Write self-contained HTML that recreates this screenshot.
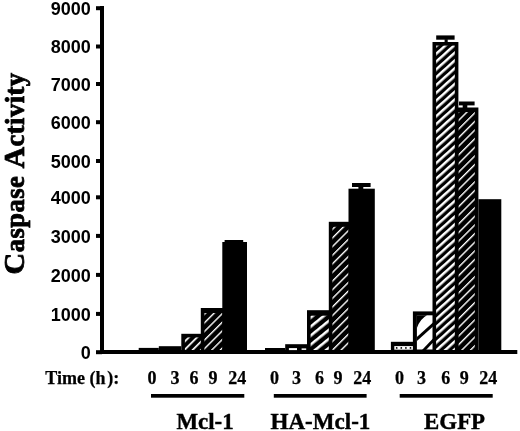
<!DOCTYPE html>
<html><head><meta charset="utf-8"><title>Caspase Activity</title>
<style>
html,body{margin:0;padding:0;background:#fff;}
body{width:520px;height:431px;overflow:hidden;}
svg{display:block;}
.yl{font-family:"Liberation Sans",Arial,sans-serif;font-weight:bold;font-size:18px;text-anchor:end;fill:#000;}
.yt{font-family:"Liberation Serif","Times New Roman",serif;font-weight:bold;font-size:26.5px;fill:#000;stroke:#000;stroke-width:0.8px;}
.xl{font-family:"Liberation Serif","Times New Roman",serif;font-weight:bold;font-size:18px;fill:#000;stroke:#000;stroke-width:0.25px;}
.gl{font-family:"Liberation Serif","Times New Roman",serif;font-weight:bold;font-size:24px;fill:#000;stroke:#000;stroke-width:0.4px;}
</style></head><body>
<svg width="520" height="431" viewBox="0 0 520 431">
<defs>
<pattern id="h1" patternUnits="userSpaceOnUse" width="5.8" height="5.8" patternTransform="rotate(45)">
<rect width="5.8" height="5.8" fill="#000"/><rect x="0" width="1.7" height="5.8" fill="#fff"/></pattern>
<pattern id="h2" patternUnits="userSpaceOnUse" width="6.1" height="6.1" patternTransform="rotate(45)">
<rect width="6.1" height="6.1" fill="#000"/><rect x="0" width="1.4" height="6.1" fill="#fff"/></pattern>
<pattern id="h3" patternUnits="userSpaceOnUse" width="5.8" height="5.8" patternTransform="rotate(48)">
<rect width="5.8" height="5.8" fill="#000"/><rect x="0" width="2.5" height="5.8" fill="#fff"/></pattern>
<pattern id="h4" patternUnits="userSpaceOnUse" width="7.0" height="7.0" patternTransform="rotate(51)">
<rect width="7.0" height="7.0" fill="#000"/><rect x="0" width="2.6" height="7.0" fill="#fff"/></pattern>
</defs>
<rect width="520" height="431" fill="#fff"/>
<rect x="100" y="6" width="4" height="348.0" fill="#000"/>
<rect x="100" y="350.0" width="417.3" height="4.0" fill="#000"/>
<rect x="96" y="350.2" width="6" height="4" fill="#000"/>
<text x="90.8" y="359.0" class="yl">0</text>
<rect x="96" y="311.9" width="6" height="4" fill="#000"/>
<text x="90.8" y="320.7" class="yl">1000</text>
<rect x="96" y="272.9" width="6" height="4" fill="#000"/>
<text x="90.8" y="281.7" class="yl">2000</text>
<rect x="96" y="233.9" width="6" height="4" fill="#000"/>
<text x="90.8" y="242.7" class="yl">3000</text>
<rect x="96" y="195.3" width="6" height="4" fill="#000"/>
<text x="90.8" y="204.1" class="yl">4000</text>
<rect x="96" y="159.0" width="6" height="4" fill="#000"/>
<text x="90.8" y="167.8" class="yl">5000</text>
<rect x="96" y="120.2" width="6" height="4" fill="#000"/>
<text x="90.8" y="129.0" class="yl">6000</text>
<rect x="96" y="82.0" width="6" height="4" fill="#000"/>
<text x="90.8" y="90.8" class="yl">7000</text>
<rect x="96" y="44.5" width="6" height="4" fill="#000"/>
<text x="90.8" y="53.3" class="yl">8000</text>
<rect x="96" y="6.2" width="6" height="4" fill="#000"/>
<text x="90.8" y="15.0" class="yl">9000</text>
<rect x="138.7" y="347.9" width="20.1" height="4.1" fill="#000"/>
<rect x="158.8" y="346.2" width="22.5" height="5.8" fill="#000"/>
<rect x="181.3" y="333.8" width="23.3" height="18.2" fill="#000"/><rect x="184.9" y="337.4" width="16.1" height="12.6" fill="url(#h1)"/>
<rect x="200.8" y="308" width="22.7" height="44.0" fill="#000"/><rect x="204.4" y="313.0" width="18.1" height="37.0" fill="url(#h2)"/>
<rect x="222.3" y="242" width="24.7" height="110.0" fill="#000"/>
<rect x="224.6" y="240" width="18.6" height="3.0" fill="#000"/><rect x="230" y="242.5" width="8.0" height="0.0" fill="#000"/>
<rect x="265" y="348" width="20.2" height="4.0" fill="#000"/>
<rect x="285.2" y="344.2" width="22.0" height="7.8" fill="#000"/>
<rect x="307.0" y="310.2" width="25.6" height="41.8" fill="#000"/><rect x="310.6" y="315.7" width="18.4" height="34.3" fill="url(#h4)"/>
<rect x="328.8" y="221.8" width="23.4" height="130.2" fill="#000"/><rect x="332.4" y="226.8" width="16.1" height="123.2" fill="url(#h2)"/>
<rect x="348.5" y="188.7" width="26.3" height="163.3" fill="#000"/>
<rect x="352" y="183" width="18.6" height="4.0" fill="#000"/><rect x="358.4" y="186.5" width="4.9" height="2.7" fill="#000"/>
<rect x="390.9" y="341.8" width="23.3" height="10.2" fill="#000"/>
<rect x="394.3" y="346.1" width="19.1" height="3.6" fill="#fff"/>
<circle cx="396.7" cy="347.9" r="0.9" fill="#000"/>
<circle cx="401.3" cy="347.9" r="0.9" fill="#000"/>
<circle cx="405.9" cy="347.9" r="0.9" fill="#000"/>
<circle cx="410.5" cy="347.9" r="0.9" fill="#000"/>
<rect x="288.9" y="348.1" width="8.1" height="2" fill="#fff"/><rect x="301.6" y="348.4" width="4.6" height="1.5" fill="#fff"/>
<rect x="412.9" y="311.4" width="23.2" height="40.6" fill="#000"/>
<rect x="416.9" y="315.3" width="16.1" height="34.2" fill="#fff"/>
<path d="M416.9,315.3 L427,315.3 Q420,319 416.9,328 Z" fill="#000"/>
<polygon points="416.9,337 433,322.5 433,326.5 416.9,341" fill="#000"/>
<polygon points="422,350 433,338.6 433,342.6 426,350" fill="#000"/>
<rect x="432.5" y="42" width="25.9" height="310.0" fill="#000"/><rect x="436.1" y="45.6" width="18.7" height="304.4" fill="url(#h3)"/>
<rect x="436.2" y="35.4" width="18.4" height="4.3" fill="#000"/><rect x="444.6" y="39.2" width="3.1" height="3.3" fill="#000"/>
<rect x="455.0" y="107.5" width="23.4" height="244.5" fill="#000"/><rect x="458.6" y="112.0" width="16.2" height="238.0" fill="url(#h2)"/>
<rect x="459" y="101.5" width="15.6" height="3.9" fill="#000"/><rect x="462.7" y="104.9" width="4.6" height="3.1" fill="#000"/>
<rect x="478.4" y="199.2" width="22.9" height="152.8" fill="#000"/>
<text class="yt" transform="translate(23.6,274.4) rotate(-90)" textLength="201.5" lengthAdjust="spacing"><tspan style="font-size:30px">C</tspan>aspase <tspan style="font-size:30px">A</tspan>ctivity</text>
<text class="xl" x="45.3" y="384.3">Time (h<tspan dx="1.8">):</tspan></text>
<text class="xl" x="147.39999999999998" y="384">0</text>
<text class="xl" x="170.5" y="384">3</text>
<text class="xl" x="189.6" y="384">6</text>
<text class="xl" x="208.5" y="384">9</text>
<text class="xl" x="228.2" y="384">24</text>
<text class="xl" x="270.09999999999997" y="384">0</text>
<text class="xl" x="292.0" y="384">3</text>
<text class="xl" x="315.09999999999997" y="384">6</text>
<text class="xl" x="333.5" y="384">9</text>
<text class="xl" x="353.2" y="384">24</text>
<text class="xl" x="395.09999999999997" y="384">0</text>
<text class="xl" x="417.0" y="384">3</text>
<text class="xl" x="441.2" y="384">6</text>
<text class="xl" x="459.7" y="384">9</text>
<text class="xl" x="479.3" y="384">24</text>
<rect x="151" y="394" width="93.3" height="3.7" fill="#000"/>
<rect x="273.8" y="394" width="92.8" height="3.7" fill="#000"/>
<rect x="399.7" y="394" width="93.0" height="3.7" fill="#000"/>
<text class="gl" x="176.4" y="429" textLength="57.3" lengthAdjust="spacingAndGlyphs">Mcl-1</text>
<text class="gl" x="270.5" y="429" textLength="99.9" lengthAdjust="spacingAndGlyphs">HA-Mcl-1</text>
<text class="gl" x="424.1" y="429" textLength="61" lengthAdjust="spacingAndGlyphs">EGFP</text>
</svg>
</body></html>
